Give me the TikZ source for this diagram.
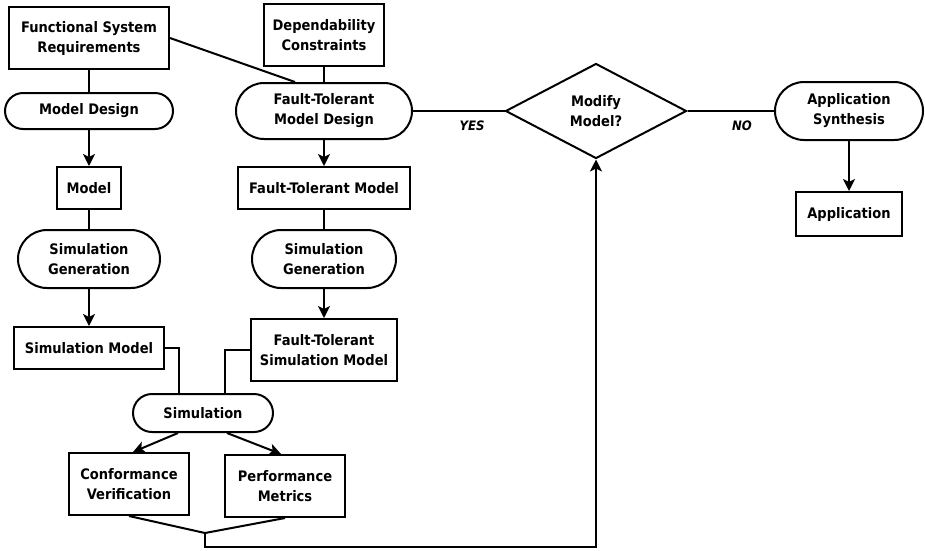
\documentclass[tikz,border=0pt]{standalone}
\usepackage{fontspec}
\setmainfont{DejaVu Sans}[FakeStretch=0.9]
\usetikzlibrary{shapes.misc,shapes.geometric,arrows.meta,calc}
\begin{document}
\begin{tikzpicture}[x=1pt,y=-1pt,line width=2pt,
  box/.style={draw,rectangle,inner sep=0pt,align=center,font=\fontsize{14.5}{20}\selectfont\bfseries},
  pill/.style={box,rounded rectangle},
  dec/.style={box,diamond},
  arr/.style={-{Stealth[length=12pt,width=12pt,inset=3pt]}},
  lab/.style={font=\fontsize{13}{14}\selectfont\bfseries\itshape,inner sep=0pt}]
\useasboundingbox (0,0) rectangle (925,550);
\node[box,minimum width=160pt,minimum height=62pt] (fsr) at (89,38) {Functional System\\Requirements};
\node[box,minimum width=120pt,minimum height=62pt] (dc) at (324,35) {Dependability\\Constraints};
\node[pill,minimum width=168pt,minimum height=36pt] (md) at (89,111) {Model Design};
\node[pill,minimum width=176pt,minimum height=56pt] (ftmd) at (324,111) {Fault-Tolerant\\Model Design};
\node[dec,minimum width=181pt,minimum height=95pt] (mod) at (596,111) {Modify\\Model?};
\node[pill,minimum width=148pt,minimum height=58pt] (as) at (849,111) {Application\\Synthesis};
\node[box,minimum width=106pt,minimum height=44pt] (app) at (849,214) {Application};
\node[box,minimum width=64pt,minimum height=42pt] (model) at (89,188) {Model};
\node[box,minimum width=172pt,minimum height=42pt] (ftm) at (324,188) {Fault-Tolerant Model};
\node[pill,minimum width=142pt,minimum height=58pt] (sgl) at (89,259) {Simulation\\Generation};
\node[pill,minimum width=144pt,minimum height=58pt] (sgr) at (324,259) {Simulation\\Generation};
\node[box,minimum width=150pt,minimum height=42pt] (sm) at (89,348) {Simulation Model};
\node[box,minimum width=146pt,minimum height=62pt] (ftsm) at (324,350) {Fault-Tolerant\\Simulation Model};
\node[pill,minimum width=140pt,minimum height=38pt] (sim) at (203,413) {Simulation};
\node[box,minimum width=120pt,minimum height=62pt] (cv) at (129,484) {Conformance\\Verification};
\node[box,minimum width=120pt,minimum height=62pt] (pm) at (285,486) {Performance\\Metrics};
\node[lab] (yes) at (472,126) {YES};
\node[lab] (no) at (742,126) {NO};
\coordinate (j) at (205,533);
% connectors
\draw (fsr.south) -- (md.north);
\draw (fsr.east) -- ($(ftmd.north)+(-29,0)$);
\draw (dc.south) -- (ftmd.north);
\draw[arr] (md.south) -- (model.north);
\draw[arr] (ftmd.south) -- (ftm.north);
\draw (model.south) -- (sgl.north);
\draw (ftm.south) -- (sgr.north);
\draw[arr] (sgl.south) -- (sm.north);
\draw[arr] (sgr.south) -- (ftsm.north);
\draw (sm.east) -| ($(sim.north)+(-24,0)$);
\draw (ftsm.west) -| ($(sim.north)+(22,0)$);
\draw[arr] ($(sim.south)+(-25,0)$) -- ($(cv.north)+(4,0)$);
\draw[arr] ($(sim.south)+(24,0)$) -- ($(pm.north)+(-4,0)$);
\draw (cv.south) -- (j) -- (pm.south);
\draw[arr] (j) -- ++(0,14) -| (mod.south);
\draw (ftmd.east) -- (mod.west);
\draw (mod.east) -- (as.west);
\draw[arr] (as.south) -- (app.north);
\end{tikzpicture}
\end{document}
